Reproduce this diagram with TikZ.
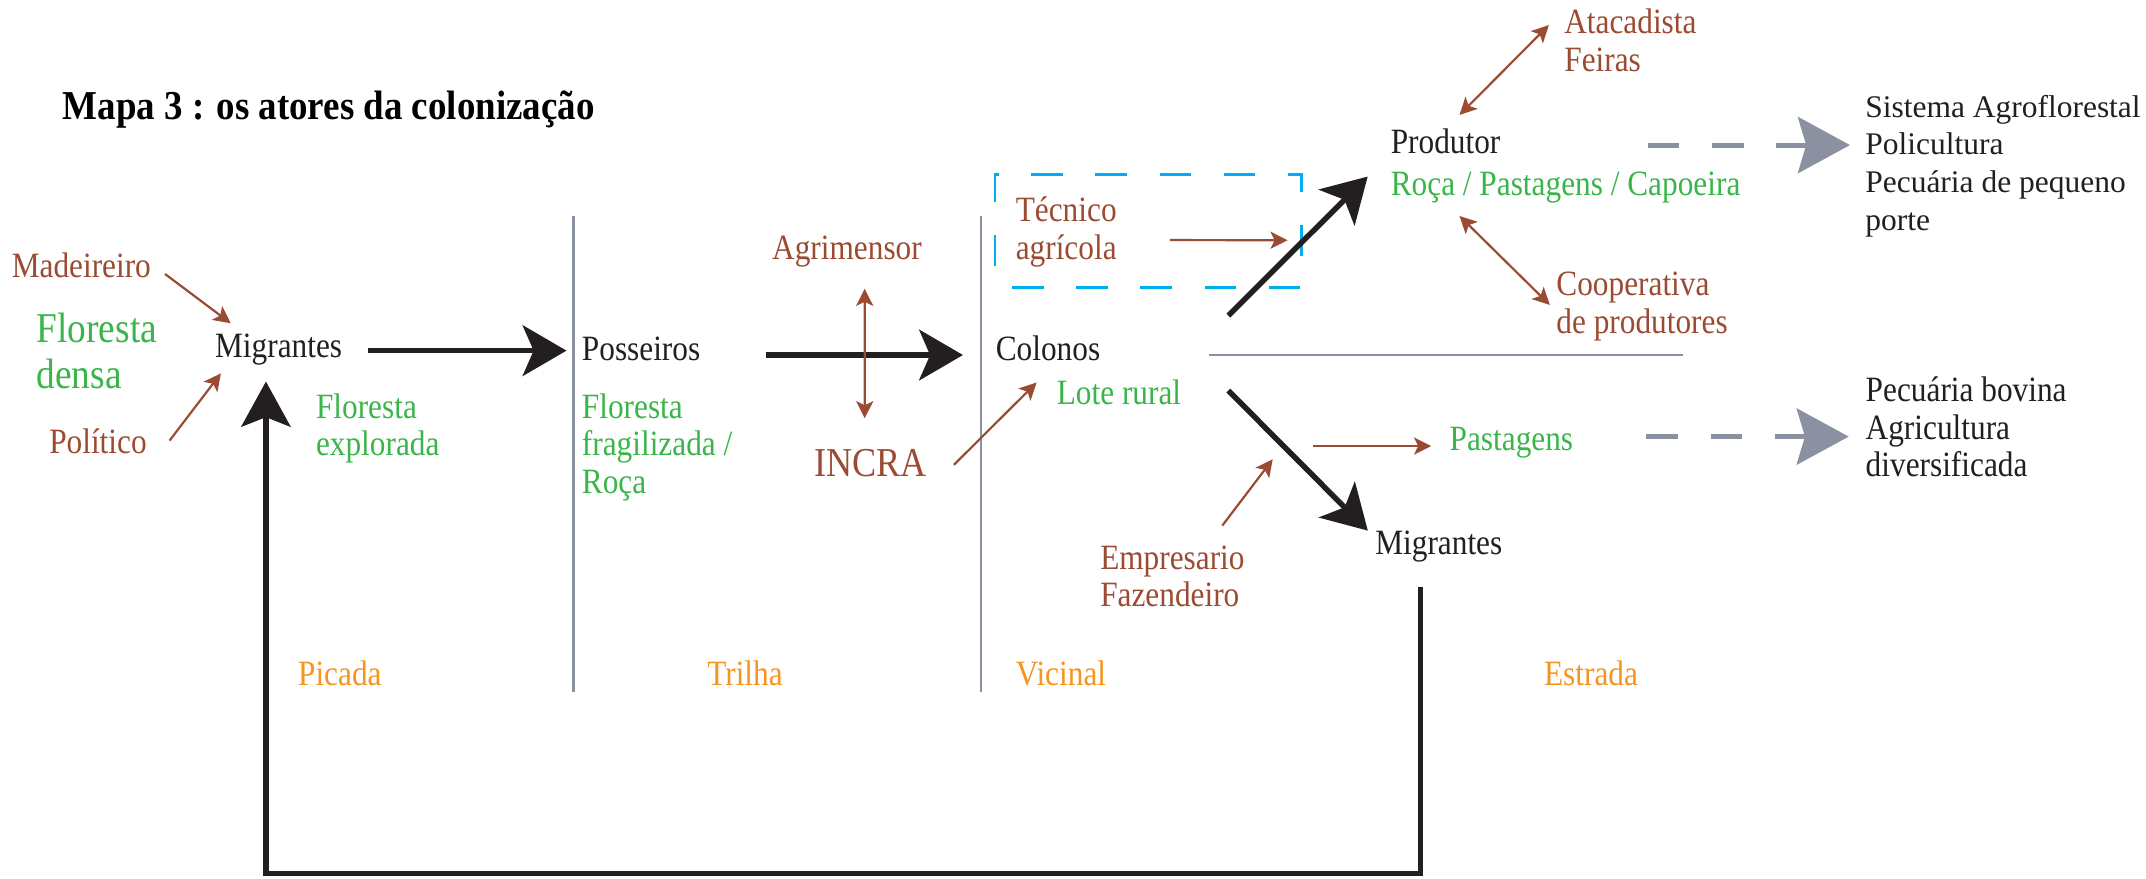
\documentclass[tikz,border=0pt]{standalone}
\usepackage{fontspec}
\setmainfont{Liberation Serif}
\newfontfamily\cond[FakeStretch=0.88]{Liberation Serif}
\newfontfamily\tfont[FakeStretch=0.9]{Liberation Serif}
\usetikzlibrary{arrows.meta,calc}
\definecolor{brownc}{RGB}{155,75,50}
\definecolor{greenc}{RGB}{57,181,74}
\definecolor{orangec}{RGB}{247,148,29}
\definecolor{grayc}{RGB}{139,145,160}
\definecolor{bluec}{RGB}{0,174,239}
\definecolor{inkc}{RGB}{35,31,32}
\tikzset{
  txt/.style={inner sep=0pt, anchor=base west, align=left,
    font=\cond\fontsize{26}{27.5}\selectfont, text=inkc},
  actor/.style={txt, text=brownc},
  land/.style={txt, text=greenc},
  road/.style={txt, text=orangec},
  result/.style={inner sep=0pt, anchor=base west, align=left,
    font=\fontsize{23}{27.5}\selectfont, text=inkc},
  bigarr/.style={draw=inkc, line width=4pt,
    -{Stealth[length=32pt, width=37pt, inset=8pt]}},
  brarr/.style={draw=brownc, line width=1.6pt,
    -{Stealth[length=12.5pt, width=12.5pt, inset=3pt]}},
  brboth/.style={draw=brownc, line width=1.6pt,
    {Stealth[length=12.5pt, width=12.5pt, inset=3pt]}-{Stealth[length=12.5pt, width=12.5pt, inset=3pt]}},
  grayarr/.style={draw=grayc, line width=3.7pt, dash pattern=on 23pt off 24pt,
    -{Stealth[length=38pt, width=41pt, inset=6pt, fill=grayc]}},
  divider/.style={draw=grayc, line width=1.6pt},
  dashbox/.style={draw=bluec, line width=2pt, dash pattern=on 23pt off 23.8pt,
    dash phase=34.1pt},
  retarr/.style={draw=inkc, line width=3.8pt,
    -{Stealth[length=33pt, width=36pt, inset=7pt]}},
}
\begin{document}
\begin{tikzpicture}[x=1pt, y=-1pt]
\useasboundingbox (0,0) rectangle (1568,642);

% title
\node[inner sep=0pt, anchor=base west, text=black,
  font=\tfont\bfseries\fontsize{30}{32}\selectfont] (title) at (45.6,87.6)
  {Mapa 3 : os atores da colonização};

% road dividers
\draw[divider] (419,158) -- (419,505.4);
\draw[divider] (716.7,158) -- (716.7,505.4);
\draw[divider, line width=2pt] (883.4,259.4) -- (1229.5,259.4);

% left zone (multi-line nodes are placed by their last baseline)
\node[actor] (mad) at (8.4,202.6) {Madeireiro};
\node[land, font=\cond\fontsize{31}{33.4}\selectfont] (fdensa) at (26.6,283.7) {Floresta\\densa};
\node[actor] (pol) at (35.8,331.2) {Político};
\node[txt] (m1) at (157,261) {Migrantes};
\node[land] (fexp) at (230.7,333.1) {Floresta\\explorada};

% posseiros
\node[txt] (pos) at (425,263.7) {Posseiros};
\node[land] (ffrag) at (425,360.6) {Floresta\\fragilizada /\\Roça};
\node[actor] (agr) at (564,189.5) {Agrimensor};
\node[actor, font=\cond\fontsize{30}{32}\selectfont] (incra) at (594.9,348.2) {INCRA};

% colonos
\node[txt] (col) at (727.4,263.7) {Colonos};
\node[land] (lote) at (772,295.9) {Lote rural};
\node[inner sep=0pt, anchor=north west, minimum width=223.4pt, minimum height=82.3pt]
  (box) at (727,127.4) {};
\draw[dashbox] (box.south west) -- (box.south east) -- (box.north east)
  -- (box.north west) -- cycle;
\node[actor] (tec) at (742,189.5) {Técnico\\agrícola};

% produtor
\node[txt] (prod) at (1016,112) {Produtor};
\node[land] (roca) at (1016,142.5) {Roça / Pastagens / Capoeira};
\node[actor] (atac) at (1142.8,51.9) {Atacadista\\Feiras};
\node[actor] (coop) at (1137,243.5) {Cooperativa\\de produtores};
\node[result] (sist) at (1362.7,168.2) {Sistema Agroflorestal\\Policultura\\Pecuária de pequeno\\porte};

% lower branch
\node[txt] (m2) at (1004.7,405.5) {Migrantes};
\node[land] (past) at (1059,328.8) {Pastagens};
\node[actor] (emp) at (803.7,443.5) {Empresario\\Fazendeiro};
\node[txt] (pecu) at (1363,348.5) {Pecuária bovina\\Agricultura\\diversificada};

% road names
\node[road] (picada) at (217.6,500.5) {Picada};
\node[road] (trilha) at (516.6,500.5) {Trilha};
\node[road] (vicinal) at (742,500.5) {Vicinal};
\node[road] (estrada) at (1128,500.5) {Estrada};

% connectors
\draw[brarr] ($(mad.base west)+(112.2,-2.4)$) -- ($(m1.base west)+(11.6,-24.8)$);
\draw[brarr] ($(pol.base west)+(88.1,-9.3)$) -- ($(m1.base west)+(4.4,11.8)$);
\draw[bigarr] ($(m1.base west)+(112,-4.8)$) -- ($(pos.base west)+(-11.1,-7.5)$);
\draw[bigarr] ($(pos.base west)+(134.4,-4.3)$) -- ($(col.base west)+(-23.8,-4.3)$);
\draw[brboth] ($(agr.base west)+(67.8,21.5)$) -- ($(incra.base west)+(36.9,-42.6)$);
\draw[brarr] ($(incra.base west)+(102.1,-8.6)$) -- ($(lote.base west)+(-14.6,-16.4)$);
\draw[brarr] ($(tec.base west)+(112.7,-14.1)$) -- ($(box.east)+(-10,6.8)$);
\draw[bigarr] ($(col.base west)+(170.1,-33.1)$) -- ($(prod.base west)+(-16.7,17)$);
\draw[brboth] ($(prod.base west)+(50.4,-28)$) -- ($(atac.base west)+(-11.1,-33.6)$);
\draw[brboth] ($(roca.base west)+(50.4,15.3)$) -- ($(coop.base west)+(-4.6,-20.7)$);
\draw[grayarr] ($(prod.base west)+(188,-6)$) -- ($(sist.base west)+(-11,-62.2)$);
\draw[bigarr] ($(col.base west)+(170.1,21.7)$) -- ($(m2.base west)+(-5.3,-17.8)$);
\coordinate (empend) at ($(emp.base west)+(126.2,-107.9)$);
\draw[brarr] ($(emp.base west)+(89.4,-59.5)$) -- (empend);
\coordinate (paststart) at ($(past.base west)+(-99.7,-2.9)$);
\draw[brarr] (paststart) -- ($(past.base west)+(-13.3,-2.9)$);
\draw[grayarr] ($(past.base west)+(144,-9.8)$) -- ($(pecu.base west)+(-12.2,-29.5)$);
\draw[retarr] ($(m2.base west)+(33,23.5)$) -- ++(0,209.5) -| ($(m1.base west)+(37.3,17.8)$);
\end{tikzpicture}
\end{document}
